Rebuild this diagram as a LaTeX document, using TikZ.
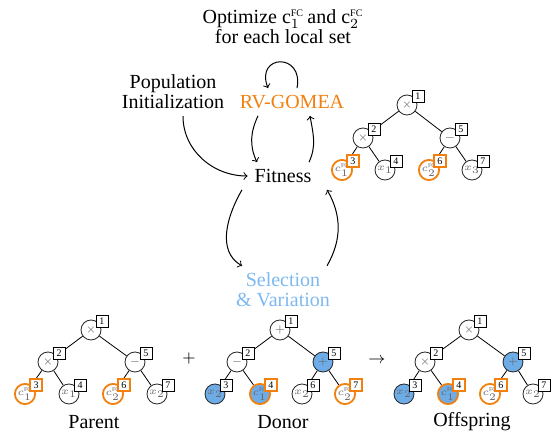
\documentclass[tikz,border=0pt]{standalone}
\usepackage{fontspec}
\setmainfont{Liberation Serif}
\usepackage{tikz}
\usetikzlibrary{arrows,positioning}
\pgfdeclarelayer{background}
\pgfsetlayers{background,main}
\definecolor{gomeaorange}{RGB}{242,128,15}
\definecolor{selblue}{RGB}{125,185,240}
\definecolor{swapblue}{RGB}{110,172,232}
\tikzset{
  gpcirc/.style={circle,draw=black!85,fill=white,minimum size=10pt,inner sep=0pt,font=\tiny,text=black!60,line width=0.4pt},
  gpbox/.style={rectangle,draw=black,fill=white,minimum size=6pt,inner sep=0.6pt,font=\tiny,line width=0.4pt},
  const/.style={draw=gomeaorange,line width=0.9pt},
  swapped/.style={fill=swapblue},
  flow/.style={->,line width=0.5pt}
}
% constant label and circle node with its numbered box
\newcommand{\cfc}[1]{c_{#1}^{\scalebox{0.6}{$\scriptscriptstyle\mathrm{FC}$}}}
\newcommand{\gpnode}[5]{%
  \node[gpcirc,#5] (#1) at (#2) {$#3$};
  \node[gpbox,#5,fill=white] (#1n) at ([xshift=5.5pt,yshift=4.5pt]#1.center) {#4};}
\begin{document}
\begin{tikzpicture}[x=0.5pt,y=-0.5pt]
    \useasboundingbox (0,0) rectangle (554,433);

    \node[align=center] (optimize) at (283,27) {Optimize c$_1^{\mbox{\tiny FC}}$\,and c$_2^{\mbox{\tiny FC}}$\\[-2pt]for each local set};
    \node[align=center] (pop) at (173,92) {Population\\[-2pt]Initialization};
    \node[text=gomeaorange] (rv) at (292,102) {RV-GOMEA};
    \node (fit) at (283,176) {Fitness};
    \node[align=center,text=selblue] (sel) at (283,290) {Selection\\[-2pt]\& Variation};

    %% cycle
    \draw[flow] ([xshift=2.5pt]rv.north) .. controls +(7,-36) and +(-13,-34) .. ([xshift=-12pt]rv.north);
    \draw[flow] ([xshift=5pt]pop.south) to[out=-90,in=180] (fit.west);
    \draw[flow] ([xshift=-17pt]rv.south) to[out=-115,in=115] ([xshift=-13pt]fit.north);
    \draw[flow] ([xshift=13pt]fit.north) to[out=65,in=-80] ([xshift=9pt]rv.south);
    \draw[flow] ([xshift=-20.5pt]fit.south) to[out=-120,in=150] ([xshift=-20.5pt]sel.north);
    \draw[flow] ([xshift=22pt]sel.north) to[out=60,in=-60] ([xshift=22pt]fit.south);

    %% top tree
    \gpnode{t1}{407,105}{\times}{1}{}
    \gpnode{t2}{363,138}{\times}{2}{}
    \gpnode{t5}{450,138}{-}{5}{}
    \gpnode{t3}{342,170}{\cfc{1}}{3}{const}
    \gpnode{t4}{385,170}{x_1}{4}{}
    \gpnode{t6}{429,170}{\cfc{2}}{6}{const}
    \gpnode{t7}{472,170}{x_3}{7}{}

    %% parent
    \gpnode{p1}{91,330}{\times}{1}{}
    \gpnode{p2}{48,362}{\times}{2}{}
    \gpnode{p5}{135,362}{-}{5}{}
    \gpnode{p3}{25,394}{\cfc{1}}{3}{const}
    \gpnode{p4}{69,394}{x_1}{4}{}
    \gpnode{p6}{113,394}{\cfc{2}}{6}{const}
    \gpnode{p7}{157,394}{x_2}{7}{}

    %% donor
    \gpnode{d1}{280,330}{+}{1}{}
    \gpnode{d2}{237,362}{-}{2}{}
    \gpnode{d5}{323,362}{+}{5}{swapped}
    \gpnode{d3}{215,394}{x_2}{3}{swapped}
    \gpnode{d4}{260,394}{\cfc{1}}{4}{swapped,const}
    \gpnode{d6}{302,394}{x_2}{6}{}
    \gpnode{d7}{345,394}{\cfc{2}}{7}{const}

    %% offspring
    \gpnode{o1}{469,330}{\times}{1}{}
    \gpnode{o2}{425,362}{\times}{2}{}
    \gpnode{o5}{513,362}{+}{5}{swapped}
    \gpnode{o3}{404,394}{x_2}{3}{swapped}
    \gpnode{o4}{448,394}{\cfc{1}}{4}{swapped,const}
    \gpnode{o6}{490,394}{\cfc{2}}{6}{const}
    \gpnode{o7}{533,394}{x_2}{7}{}

    \begin{pgfonlayer}{background}
    \foreach \t in {t,p,d,o}
        \draw[line width=0.4pt] (\t1) -- (\t2) (\t1) -- (\t5) (\t2) -- (\t3) (\t2) -- (\t4) (\t5) -- (\t6) (\t5) -- (\t7);
    \end{pgfonlayer}

    \node (plus) at (189,359) {\footnotesize $+$};
    \node (yields) at (377,360) {\footnotesize $\rightarrow$};
    \node (parentlbl) at (94,422) {Parent};
    \node (donorlbl) at (283,422) {Donor};
    \node (offspringlbl) at (472,422) {Offspring};

\end{tikzpicture}
\end{document}
